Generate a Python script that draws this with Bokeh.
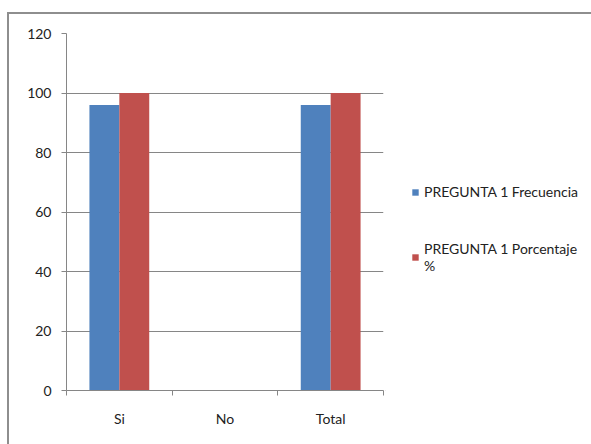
from bokeh.plotting import figure
from bokeh.layouts import row
from bokeh.models import ColumnDataSource, Range1d, FixedTicker, Legend, LegendItem
from bokeh.embed import file_html
from bokeh.resources import INLINE

categories = ["Si", "No", "Total"]
frecuencia = [96, 0, 96]
porcentaje = [100, 0, 100]
series_names = ["PREGUNTA 1 Frecuencia", "PREGUNTA 1 Porcentaje\n%"]
series_colors = ["#4F81BD", "#C0504D"]
y_ticks = [0, 20, 40, 60, 80, 100, 120]

FONT = "Lato"
BAR_W = 0.283
idx = list(range(len(categories)))
src = ColumnDataSource(dict(
    xb=[i + 0.5 - BAR_W / 2 for i in idx],
    xr=[i + 0.5 + BAR_W / 2 for i in idx],
    f=frecuencia,
    pct=porcentaje,
))

p = figure(width=376, height=430, output_backend="svg", toolbar_location=None,
           x_range=Range1d(0, len(categories)), y_range=Range1d(0, 120),
           min_border_left=57, min_border_right=2, min_border_top=19, min_border_bottom=54)
p.outline_line_color = None
p.background_fill_color = "white"
p.border_fill_color = "white"

p.vbar(x="xb", top="f", width=BAR_W, source=src, color=series_colors[0], line_color=None)
p.vbar(x="xr", top="pct", width=BAR_W, source=src, color=series_colors[1], line_color=None)

# y axis
p.yaxis.ticker = FixedTicker(ticks=y_ticks)
p.yaxis.axis_line_color = "#868686"
p.yaxis.major_tick_line_color = "#868686"
p.yaxis.major_tick_out = 5
p.yaxis.major_tick_in = 0
p.yaxis.minor_tick_line_color = None
p.yaxis.major_label_text_font = FONT
p.yaxis.major_label_text_font_size = "14px"
p.yaxis.major_label_text_color = "#222222"
p.yaxis.major_label_standoff = 10

# x axis
p.xaxis.ticker = FixedTicker(ticks=[i + 0.5 for i in idx], minor_ticks=[float(i) for i in range(len(categories) + 1)])
p.xaxis.major_label_overrides = {i + 0.5: c for i, c in zip(idx, categories)}
p.xaxis.axis_line_color = "#868686"
p.xaxis.major_tick_line_color = None
p.xaxis.minor_tick_line_color = "#868686"
p.xaxis.minor_tick_out = 5
p.xaxis.minor_tick_in = 0
p.xaxis.major_label_text_font = FONT
p.xaxis.major_label_text_font_size = "14px"
p.xaxis.major_label_text_color = "#222222"
p.xaxis.major_label_standoff = 13

p.xgrid.grid_line_color = None
p.ygrid.ticker = FixedTicker(ticks=y_ticks)
p.ygrid.grid_line_color = "#868686"

# legend panel
q = figure(width=206, height=430, output_backend="svg", toolbar_location=None,
           x_range=Range1d(0, 1), y_range=Range1d(0, 1),
           min_border_left=0, min_border_right=0, min_border_top=0, min_border_bottom=0)
q.axis.visible = False
q.grid.visible = False
q.outline_line_color = None
q.border_fill_color = "white"
leg_renderers = [q.vbar(x=[-5.0], top=[-5.0], bottom=[-6.0], width=0.1, color=c, line_color=None)
                 for c in series_colors]

legend = Legend(items=[LegendItem(label=n, renderers=[r]) for n, r in zip(series_names, leg_renderers)],
                location=(26, 116), padding=0, margin=0, spacing=40,
                glyph_width=8, glyph_height=8, label_standoff=5,
                label_text_font=FONT, label_text_font_size="14px", label_text_color="#222222",
                border_line_color=None, background_fill_alpha=0)
q.add_layout(legend, "center")

layout = row(p, q, spacing=0)
layout.styles = {"margin-left": "7px", "margin-top": "12px",
                 "border-top": "2px solid #8e8e8e", "border-left": "2px solid #8e8e8e"}

open("out.html", "w").write(file_html(layout, INLINE))
